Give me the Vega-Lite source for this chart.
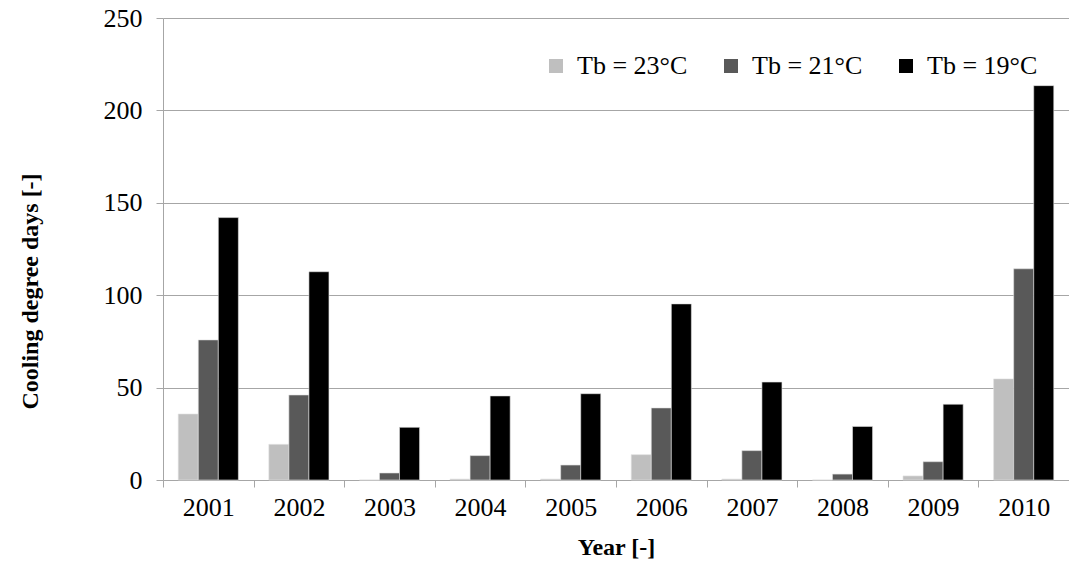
{
  "$schema": "https://vega.github.io/schema/vega-lite/v6.json",
  "autosize": "none",
  "width": 906,
  "height": 462,
  "padding": {"left": 163, "top": 18, "right": 0, "bottom": 94},
  "background": "white",
  "config": {
    "font": "Liberation Serif",
    "view": {"stroke": null},
    "axis": {"labelFont": "Liberation Serif", "titleFont": "Liberation Serif", "labelColor": "#000", "titleColor": "#000"}
  },
  "data": {
    "values": [
      {"year": "2001", "series": "Tb = 23°C", "value": 35.7},
      {"year": "2001", "series": "Tb = 21°C", "value": 75.8},
      {"year": "2001", "series": "Tb = 19°C", "value": 142},
      {"year": "2002", "series": "Tb = 23°C", "value": 19.3},
      {"year": "2002", "series": "Tb = 21°C", "value": 46},
      {"year": "2002", "series": "Tb = 19°C", "value": 112.7},
      {"year": "2003", "series": "Tb = 23°C", "value": 0},
      {"year": "2003", "series": "Tb = 21°C", "value": 3.8},
      {"year": "2003", "series": "Tb = 19°C", "value": 28.5},
      {"year": "2004", "series": "Tb = 23°C", "value": 0.5},
      {"year": "2004", "series": "Tb = 21°C", "value": 13.2},
      {"year": "2004", "series": "Tb = 19°C", "value": 45.5},
      {"year": "2005", "series": "Tb = 23°C", "value": 0.5},
      {"year": "2005", "series": "Tb = 21°C", "value": 8.1},
      {"year": "2005", "series": "Tb = 19°C", "value": 46.7},
      {"year": "2006", "series": "Tb = 23°C", "value": 13.7},
      {"year": "2006", "series": "Tb = 21°C", "value": 39},
      {"year": "2006", "series": "Tb = 19°C", "value": 95.3},
      {"year": "2007", "series": "Tb = 23°C", "value": 0.5},
      {"year": "2007", "series": "Tb = 21°C", "value": 15.9},
      {"year": "2007", "series": "Tb = 19°C", "value": 53},
      {"year": "2008", "series": "Tb = 23°C", "value": 0},
      {"year": "2008", "series": "Tb = 21°C", "value": 3.2},
      {"year": "2008", "series": "Tb = 19°C", "value": 29},
      {"year": "2009", "series": "Tb = 23°C", "value": 2.2},
      {"year": "2009", "series": "Tb = 21°C", "value": 9.9},
      {"year": "2009", "series": "Tb = 19°C", "value": 41},
      {"year": "2010", "series": "Tb = 23°C", "value": 54.7},
      {"year": "2010", "series": "Tb = 21°C", "value": 114.3},
      {"year": "2010", "series": "Tb = 19°C", "value": 213.4}
    ]
  },
  "mark": {"type": "bar", "stroke": "#e0e0e0", "strokeWidth": 0.6},
  "encoding": {
    "x": {
      "field": "year", "type": "nominal",
      "scale": {"paddingInner": 0, "paddingOuter": 0},
      "axis": {
        "title": "Year [-]", "titleFontSize": 24, "titleFontWeight": "bold", "titlePadding": 15,
        "labelAngle": 0, "labelFontSize": 26, "labelPadding": 7,
        "tickBand": "extent", "tickColor": "#a6a6a6", "tickSize": 7,
        "domainColor": "#a6a6a6", "grid": false
      }
    },
    "xOffset": {
      "field": "series", "type": "nominal",
      "sort": ["Tb = 23°C", "Tb = 21°C", "Tb = 19°C"],
      "scale": {"paddingInner": 0, "paddingOuter": 0.76}
    },
    "y": {
      "field": "value", "type": "quantitative",
      "scale": {"domain": [0, 250], "nice": false},
      "axis": {
        "title": "Cooling degree days [-]", "titleFontSize": 24, "titleFontWeight": "bold",
        "titleX": -133, "titleY": 273, "titleAngle": 270, "titleAlign": "center", "titleBaseline": "middle",
        "values": [0, 50, 100, 150, 200, 250], "labelFontSize": 26, "labelPadding": 14,
        "tickColor": "#a6a6a6", "tickSize": 7, "domainColor": "#a6a6a6",
        "grid": true, "gridColor": "#a6a6a6"
      }
    },
    "color": {
      "field": "series", "type": "nominal",
      "sort": ["Tb = 23°C", "Tb = 21°C", "Tb = 19°C"],
      "scale": {"domain": ["Tb = 23°C", "Tb = 21°C", "Tb = 19°C"], "range": ["#bfbfbf", "#595959", "#000000"]},
      "legend": {
        "title": null, "orient": "none", "legendX": 380, "legendY": 35,
        "direction": "horizontal", "symbolType": "square", "symbolSize": 196,
        "symbolStrokeWidth": 0, "labelFontSize": 26, "labelFont": "Liberation Serif",
        "labelColor": "#000", "columnPadding": 30, "labelOffset": 8, "labelLimit": 300
      }
    }
  }
}
